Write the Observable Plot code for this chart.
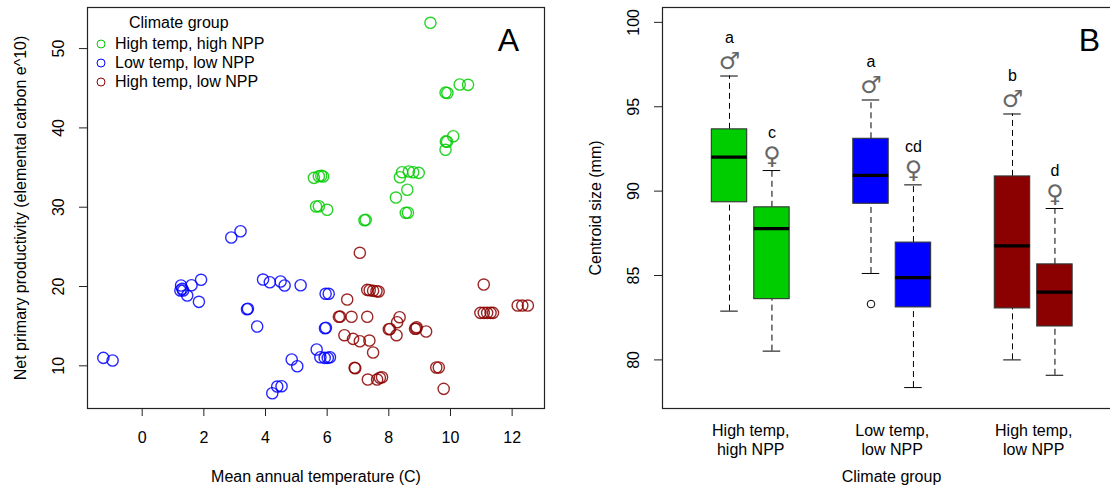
<!DOCTYPE html>
<html>
<head>
<meta charset="utf-8">
<script src="https://cdn.jsdelivr.net/npm/d3@7"></script>
<script src="https://cdn.jsdelivr.net/npm/@observablehq/plot@0.6"></script>
<style>
  body { margin: 0; background: #fff; }
  #wrap { position: relative; width: 1110px; height: 487px; overflow: hidden;
          font-family: "Liberation Sans", Arial, Helvetica, sans-serif; }
  #wrap svg { position: absolute; top: 0; }
  #legend { position: absolute; left: 94px; top: 12px; font-size: 16px; color: #000; }
  #legend .title { margin-left: 35px; line-height: 22px; }
  #legend .row { display: flex; align-items: center; height: 19.3px; }
  #legend .row svg { position: static; margin-right: 7px; }
</style>
</head>
<body>
<div id="wrap"><div id="legend"></div></div>
<script>
// ---- Panel A: climate of each site ----
const groups = ["High temp, high NPP", "Low temp, low NPP", "High temp, low NPP"];
const groupColors = ["#00CD00", "#0000FF", "#8B0000"];

const hhTemp = [9.35, 10.30, 10.57, 9.84, 9.90, 10.09, 9.85, 9.89, 9.84, 8.43, 8.65, 8.79, 8.97, 8.36,
                8.60, 8.23, 8.55, 8.62, 7.21, 7.25, 5.57, 5.73, 5.81, 5.87, 5.64, 5.73, 6.00];
const hhNpp  = [53.25, 45.47, 45.43, 44.45, 44.40, 38.95, 38.30, 38.25, 37.24, 34.41, 34.50, 34.41, 34.33, 33.78,
                32.20, 31.22, 29.29, 29.30, 28.36, 28.40, 33.70, 33.90, 33.96, 33.87, 30.09, 30.13, 29.67];

const llTemp = [-1.26, -0.96, 1.26, 1.30, 1.24, 1.33, 1.46, 1.60, 1.91, 1.84, 2.89, 3.19, 3.92, 4.14, 4.49,
                4.62, 5.14, 3.40, 3.43, 3.73, 5.95, 6.05, 5.93, 5.96, 5.66, 5.78, 5.92, 6.02, 6.09, 4.85,
                5.03, 4.38, 4.52, 4.22];
const llNpp  = [11.00, 10.67, 20.13, 19.71, 19.50, 19.50, 18.87, 20.16, 20.85, 18.07, 26.18, 26.97, 20.88, 20.54, 20.63,
                20.13, 20.16, 17.14, 17.20, 14.96, 19.08, 19.08, 14.74, 14.80, 12.06, 11.08, 11.00, 11.00, 11.08, 10.80,
                9.95, 7.39, 7.43, 6.54];

const hlTemp = [7.06, 7.30, 7.38, 7.49, 7.60, 7.67, 6.65, 6.38, 6.42, 6.79, 7.30, 8.35, 8.27, 8.00, 8.04,
                8.25, 8.90, 8.85, 8.89, 9.21, 6.56, 6.84, 7.06, 7.37, 7.49, 6.91, 6.89, 7.32, 7.62, 7.71,
                7.78, 9.54, 9.62, 9.78, 11.08, 10.97, 11.08, 11.19, 11.30, 11.38, 12.18, 12.33, 12.51];
const hlNpp  = [24.25, 19.58, 19.53, 19.46, 19.41, 19.37, 18.36, 16.18, 16.20, 16.18, 16.18, 16.13, 15.50, 14.62, 14.65,
                13.86, 14.87, 14.67, 14.70, 14.33, 13.86, 13.40, 13.10, 13.19, 11.68, 9.70, 9.75, 8.27, 8.27, 8.49,
                8.56, 9.79, 9.79, 7.10, 20.25, 16.68, 16.68, 16.68, 16.68, 16.68, 17.60, 17.60, 17.60];

const tempTicks = [0, 2, 4, 6, 8, 10, 12];
const nppTicks = [10, 20, 30, 40, 50];

// ---- Panel B: centroid size by climate group and sex ----
const boxPos     = [1, 1.3, 2, 2.3, 3, 3.3];
const boxGroup   = [0, 0, 1, 1, 2, 2];
const boxSex     = ["\u2642", "\u2640", "\u2642", "\u2640", "\u2642", "\u2640"];
const boxLetter  = ["a", "c", "a", "cd", "b", "d"];
const whiskerLo  = [82.89, 80.52, 85.12, 78.36, 80.00, 79.09];
const quart1     = [89.34, 83.60, 89.25, 83.11, 83.05, 81.98];
const medians    = [92.01, 87.78, 90.93, 84.87, 86.75, 84.02];
const quart3     = [93.66, 89.04, 93.10, 86.95, 90.87, 85.66];
const whiskerHi  = [96.82, 91.22, 95.40, 90.37, 94.57, 88.97];
const outlierPos = [2];
const outlierVal = [83.31];
const groupLabelPos = [1.15, 2.15, 3.15];
const groupLabels = ["High temp,\nhigh NPP", "Low temp,\nlow NPP", "High temp,\nlow NPP"];
const sizeTicks = [80, 85, 90, 95, 100];

const FONT = "Liberation Sans, Arial, Helvetica, sans-serif";
const wrap = document.getElementById("wrap");

// site table
const sites = [];
[[hhTemp, hhNpp], [llTemp, llNpp], [hlTemp, hlNpp]].forEach(([t, n], g) => {
  t.forEach((v, i) => sites.push({temp: v, npp: n[i], group: groups[g]}));
});

// shared text settings for centred labels
const centred = {textAnchor: "middle", lineAnchor: "middle", fontSize: 16, fill: "#000"};

const panelA = Plot.plot({
  width: 560, height: 487,
  marginLeft: 87, marginRight: 16, marginTop: 7, marginBottom: 79,
  style: {fontFamily: FONT, fontSize: "16px", background: "transparent", overflow: "visible"},
  x: {domain: [-1.774, 13.05], axis: null},
  y: {domain: [4.62, 55.18], axis: null},
  color: {domain: groups, range: groupColors},
  marks: [
    Plot.frame({stroke: "#222", strokeWidth: 1.2}),
    Plot.axisX({ticks: tempTicks, tickSize: 8, tickFormat: () => "", label: null, stroke: "#222"}),
    Plot.text(tempTicks, {...centred, x: d => d, frameAnchor: "bottom", dy: 29, text: d => String(d)}),
    Plot.axisY({ticks: nppTicks, tickSize: 8, tickFormat: () => "", label: null, stroke: "#222"}),
    Plot.text(nppTicks, {...centred, y: d => d, frameAnchor: "left", dx: -29, rotate: -90, text: d => String(d)}),
    Plot.text(["Mean annual temperature (C)"], {...centred, frameAnchor: "bottom", dy: 68}),
    Plot.text(["Net primary productivity (elemental carbon e^10)"], {...centred, frameAnchor: "left", dx: -67, rotate: -90}),
    Plot.dot(sites, {x: "temp", y: "npp", stroke: "group", r: 5.6, strokeWidth: 1.4, strokeOpacity: 0.85}),
    Plot.text(["A"], {...centred, fontSize: 32, frameAnchor: "top-right", dx: -36, dy: 33})
  ]
});
panelA.style.left = "0px";
wrap.appendChild(panelA);

// legend for panel A
const legend = document.getElementById("legend");
legend.innerHTML = `<div class="title">Climate group</div>` + groups.map((g, i) =>
  `<div class="row"><svg width="14" height="14"><circle cx="7" cy="7" r="4" fill="none" stroke="${groupColors[i]}" stroke-width="1"/></svg>${g}</div>`
).join("");

// box table
const boxes = boxPos.map((p, i) => ({
  pos: p, color: groupColors[boxGroup[i]], sex: boxSex[i], letter: boxLetter[i],
  lo: whiskerLo[i], q1: quart1[i], med: medians[i], q3: quart3[i], hi: whiskerHi[i]
}));
const outliers = outlierPos.map((p, i) => ({pos: p, value: outlierVal[i]}));
const halfBox = 0.125, halfCap = 0.062;

const panelB = Plot.plot({
  width: 570, height: 487,
  marginLeft: 102, marginRight: 10, marginTop: 7, marginBottom: 79,
  style: {fontFamily: FONT, fontSize: "16px", background: "transparent"},
  x: {domain: [0.5265, 3.7633], axis: null},
  y: {domain: [77.12, 100.88], axis: null},
  marks: [
    Plot.axisY({ticks: sizeTicks, tickSize: 8, tickFormat: () => "", label: null, stroke: "#222"}),
    Plot.text(sizeTicks, {...centred, y: d => d, frameAnchor: "left", dx: -29, rotate: -90, text: d => String(d)}),
    Plot.text(["Centroid size (mm)"], {...centred, frameAnchor: "left", dx: -67, rotate: -90}),
    Plot.text(groupLabelPos, {...centred, x: d => d, frameAnchor: "bottom", dy: 31, text: (d, i) => groupLabels[i], lineHeight: 1.15}),
    Plot.text(["Climate group"], {...centred, frameAnchor: "bottom", dy: 68}),
    // whiskers
    Plot.ruleX(boxes, {x: "pos", y1: "q3", y2: "hi", stroke: "#000", strokeDasharray: "6,4"}),
    Plot.ruleX(boxes, {x: "pos", y1: "lo", y2: "q1", stroke: "#000", strokeDasharray: "6,4"}),
    Plot.ruleY(boxes, {y: "hi", x1: d => d.pos - halfCap, x2: d => d.pos + halfCap, stroke: "#000"}),
    Plot.ruleY(boxes, {y: "lo", x1: d => d.pos - halfCap, x2: d => d.pos + halfCap, stroke: "#000"}),
    // boxes and medians
    Plot.rect(boxes, {x1: d => d.pos - halfBox, x2: d => d.pos + halfBox, y1: "q1", y2: "q3", fill: "color", stroke: "#333", strokeWidth: 1.1}),
    Plot.ruleY(boxes, {y: "med", x1: d => d.pos - halfBox, x2: d => d.pos + halfBox, stroke: "#000", strokeWidth: 3.2}),
    Plot.dot(outliers, {x: "pos", y: "value", r: 3.8, stroke: "#000", strokeWidth: 1}),
    // sex symbols and group letters
    Plot.text(boxes, {...centred, x: "pos", y: d => d.hi + 0.85, text: "sex", fontSize: 24, fill: "#666", fontFamily: "DejaVu Sans"}),
    Plot.text(boxes, {...centred, x: "pos", y: d => d.hi + 2.25, text: "letter"}),
    Plot.frame({stroke: "#222", strokeWidth: 1.2}),
    Plot.text(["B"], {...centred, fontSize: 32, frameAnchor: "top-right", dx: -31, dy: 33})
  ]
});
panelB.style.left = "560px";
wrap.appendChild(panelB);
</script>
</body>
</html>
